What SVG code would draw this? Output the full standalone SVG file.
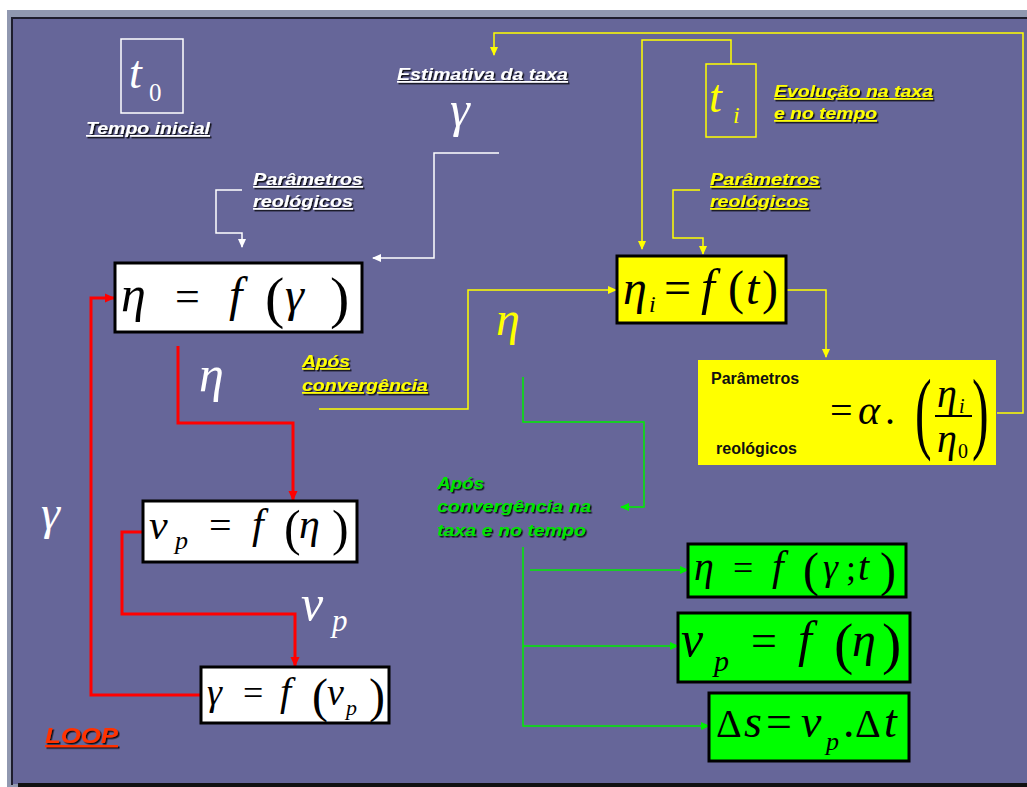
<svg xmlns="http://www.w3.org/2000/svg" width="1027" height="787" viewBox="0 0 1027 787">
<style>
.lab{font-family:"Liberation Sans",Arial,sans-serif;font-weight:bold;font-style:italic;font-size:17px;text-decoration:underline;filter:url(#sh)}
.w{fill:#ffffff}
.y{fill:#ffff00}
.g{fill:#00e600;text-decoration:none}
.r{fill:#ff3300;font-size:22px}
.bk{font-family:"Liberation Sans",Arial,sans-serif;font-weight:bold;font-size:16px;fill:#111}
.m{font-family:"Liberation Serif","Times New Roman",serif;font-style:italic;fill:#000}
.u{font-family:"Liberation Serif","Times New Roman",serif;font-style:normal;fill:#000}
.box{stroke:#000;stroke-width:3}
.cw{fill:none;stroke:#ffffff;stroke-width:1.5}
.cy{fill:none;stroke:#ffff00;stroke-width:1.5}
.cr{fill:none;stroke:#ff0000;stroke-width:3}
.cg{fill:none;stroke:#00ee00;stroke-width:1.5}
</style>
<defs>
<filter id="sh" x="-10%" y="-20%" width="130%" height="160%">
<feDropShadow dx="1.5" dy="1.5" stdDeviation="0.4" flood-color="#000" flood-opacity="0.85"/>
</filter>
<marker id="aw" markerUnits="userSpaceOnUse" markerWidth="10" markerHeight="10" refX="8" refY="5" orient="auto"><path d="M0,1 L9,5 L0,9 Z" fill="#ffffff"/></marker>
<marker id="ay" markerUnits="userSpaceOnUse" markerWidth="10" markerHeight="10" refX="8" refY="5" orient="auto"><path d="M0,1 L9,5 L0,9 Z" fill="#ffff00"/></marker>
<marker id="ar" markerUnits="userSpaceOnUse" markerWidth="12" markerHeight="12" refX="9" refY="6" orient="auto"><path d="M0,1.5 L10,6 L0,10.5 Z" fill="#ff0000"/></marker>
<marker id="ag" markerUnits="userSpaceOnUse" markerWidth="10" markerHeight="10" refX="8" refY="5" orient="auto"><path d="M0,1 L9,5 L0,9 Z" fill="#00ee00"/></marker>
</defs>

<!-- background frame -->
<rect width="1027" height="787" fill="#ffffff"/>
<rect x="7" y="10" width="1020" height="777" fill="#9098b0"/>
<rect x="12" y="18" width="1015" height="766" fill="#666699"/>
<path d="M12,785 V18 H1027" fill="none" stroke="#1e1e2e" stroke-width="2"/>
<rect x="18" y="783" width="1009" height="4" fill="#111111"/>

<!-- connectors -->
<g id="connectors">
<path class="cw" d="M499,153 H434 V258 H373" marker-end="url(#aw)"/>
<path class="cw" d="M242,190 H216 V233 H242 V247" marker-end="url(#aw)"/>
<path class="cy" d="M997,413 H1023 V33 H494 V55" marker-end="url(#ay)"/>
<path class="cy" d="M731,64 V40 H642 V249" marker-end="url(#ay)"/>
<path class="cy" d="M700,190 H673 V238 H703 V254" marker-end="url(#ay)"/>
<path class="cy" d="M319,409 H468 V290 H616" marker-end="url(#ay)"/>
<path class="cy" d="M787,290 H826 V357" marker-end="url(#ay)"/>
<path class="cr" d="M178,346 V423 H293 V500" marker-end="url(#ar)"/>
<path class="cr" d="M146,532 H122 V614 H295 V666" marker-end="url(#ar)"/>
<path class="cr" d="M200,695 H91 V298 H114" marker-end="url(#ar)"/>
<path class="cg" d="M523,377 V422 H644 V507 H621" marker-end="url(#ag)"/>
<path class="cg" d="M523,547 V726 H709" marker-end="url(#ag)"/>
<path class="cg" d="M530,570 H688" marker-end="url(#ag)"/>
<path class="cg" d="M523,646 H678" marker-end="url(#ag)"/>
</g>

<!-- t0 node -->
<g id="t0">
<rect x="121" y="39" width="62" height="74" fill="none" stroke="#ffffff" stroke-width="1.5"/>
<text x="129" y="88" class="m" style="fill:#fff" font-size="46">t</text>
<text x="149" y="101" class="u" style="fill:#fff" font-size="25">0</text>
<text x="86" y="134" class="lab w" textLength="124" lengthAdjust="spacingAndGlyphs">Tempo inicial</text>
</g>

<g id="estimativa">
<text x="397" y="80" class="lab w" textLength="171" lengthAdjust="spacingAndGlyphs">Estimativa da taxa</text>
<text x="450" y="126" class="m" style="fill:#fff" font-size="50">γ</text>
</g>

<g id="param-white">
<text x="253" y="185" class="lab w" textLength="110" lengthAdjust="spacingAndGlyphs">Parâmetros</text>
<text x="253" y="207" class="lab w" textLength="100" lengthAdjust="spacingAndGlyphs">reológicos</text>
</g>

<g id="eq-eta-gamma">
<rect x="115" y="263" width="247" height="69" fill="#ffffff" class="box"/>
<text x="121" y="311" class="m" font-size="50">η</text>
<text x="175" y="311" class="u" font-size="44">=</text>
<text x="229" y="311" class="m" font-size="48">f</text>
<text x="265" y="317" class="u" font-size="58">(</text>
<text x="285" y="311" class="m" font-size="48">γ</text>
<text x="330" y="317" class="u" font-size="58">)</text>
</g>

<text x="199" y="391" class="m" style="fill:#fff" font-size="50">η</text>

<g id="eq-vp">
<rect x="143" y="501" width="214" height="61" fill="#ffffff" class="box"/>
<text x="149" y="539" class="m" font-size="42">v</text>
<text x="175" y="549" class="m" font-size="26">p</text>
<text x="209" y="539" class="u" font-size="40">=</text>
<text x="252" y="538" class="m" font-size="42">f</text>
<text x="284" y="545" class="u" font-size="50">(</text>
<text x="299" y="538" class="m" font-size="42">η</text>
<text x="332" y="545" class="u" font-size="50">)</text>
</g>

<text x="301" y="620" class="m" style="fill:#fff" font-size="50">v</text>
<text x="332" y="631" class="m" style="fill:#fff" font-size="31">p</text>
<text x="41" y="529" class="m" style="fill:#fff" font-size="48">γ</text>

<g id="eq-gamma-vp">
<rect x="201" y="667" width="188" height="56" fill="#ffffff" class="box"/>
<text x="207" y="705" class="m" font-size="38">γ</text>
<text x="243" y="705" class="u" font-size="36">=</text>
<text x="280" y="705" class="m" font-size="40">f</text>
<text x="312" y="712" class="u" font-size="48">(</text>
<text x="327" y="705" class="m" font-size="38">v</text>
<text x="346" y="715" class="m" font-size="22">p</text>
<text x="369" y="712" class="u" font-size="48">)</text>
</g>

<text x="45" y="743" class="lab r" textLength="73" lengthAdjust="spacingAndGlyphs">LOOP</text>

<g id="ti">
<rect x="706" y="64" width="50" height="73" fill="none" stroke="#ffff00" stroke-width="1.5"/>
<text x="709" y="112" class="m" style="fill:#ff0" font-size="46">t</text>
<text x="733" y="123" class="m" style="fill:#ff0" font-size="24">i</text>
<text x="774" y="97" class="lab y" textLength="159" lengthAdjust="spacingAndGlyphs">Evolução na taxa</text>
<text x="774" y="119" class="lab y" textLength="103" lengthAdjust="spacingAndGlyphs">e no tempo</text>
</g>

<g id="param-yellow">
<text x="710" y="185" class="lab y" textLength="110" lengthAdjust="spacingAndGlyphs">Parâmetros</text>
<text x="710" y="207" class="lab y" textLength="99" lengthAdjust="spacingAndGlyphs">reológicos</text>
</g>

<g id="eq-eta-i">
<rect x="617" y="256" width="169" height="67" fill="#ffff00" class="box"/>
<text x="623" y="304" class="m" font-size="48">η</text>
<text x="649" y="312" class="m" font-size="24">i</text>
<text x="664" y="304" class="u" font-size="48">=</text>
<text x="701" y="304" class="m" font-size="50">f</text>
<text x="728" y="304" class="u" font-size="48">(</text>
<text x="746" y="304" class="m" font-size="48">t</text>
<text x="762" y="304" class="u" font-size="48">)</text>
</g>

<text x="496" y="335" class="m" style="fill:#ff0" font-size="48">η</text>

<g id="apos-yellow">
<text x="302" y="367" class="lab y" textLength="48" lengthAdjust="spacingAndGlyphs">Após</text>
<text x="302" y="391" class="lab y" textLength="126" lengthAdjust="spacingAndGlyphs">convergência</text>
</g>

<g id="param-box">
<rect x="698" y="360" width="298" height="105" fill="#ffff00"/>
<text x="711" y="384" class="bk">Parâmetros</text>
<text x="716" y="454" class="bk">reológicos</text>
<text x="830" y="424" class="u" font-size="40">=</text>
<text x="858" y="424" class="m" font-size="42">α</text>
<text x="885" y="424" class="u" font-size="40">.</text>
<text x="915" y="0" class="u" font-size="50" transform="translate(0,442) scale(1,1.8)">(</text>
<text x="937" y="407" class="m" font-size="40">η</text>
<text x="959" y="413" class="m" font-size="20">i</text>
<line x1="935" y1="416" x2="972" y2="416" stroke="#000" stroke-width="2"/>
<text x="937" y="452" class="m" font-size="40">η</text>
<text x="958" y="458" class="u" font-size="20">0</text>
<text x="972" y="0" class="u" font-size="50" transform="translate(0,442) scale(1,1.8)">)</text>
</g>

<g id="apos-green">
<text x="437" y="489" class="lab g" textLength="47" lengthAdjust="spacingAndGlyphs">Após</text>
<text x="437" y="512" class="lab g" textLength="154" lengthAdjust="spacingAndGlyphs">convergência na</text>
<text x="437" y="536" class="lab g" textLength="149" lengthAdjust="spacingAndGlyphs">taxa e no tempo</text>
</g>

<g id="g-eq1">
<rect x="688" y="544" width="218" height="53" fill="#00ff00" class="box"/>
<text x="694" y="580" class="m" font-size="40">η</text>
<text x="733" y="580" class="u" font-size="36">=</text>
<text x="772" y="580" class="m" font-size="42">f</text>
<text x="803" y="586" class="u" font-size="48">(</text>
<text x="823" y="580" class="m" font-size="38">γ</text>
<text x="846" y="580" class="u" font-size="36">;</text>
<text x="858" y="580" class="m" font-size="40">t</text>
<text x="880" y="586" class="u" font-size="48">)</text>
</g>

<g id="g-eq2">
<rect x="678" y="613" width="232" height="69" fill="#00ff00" class="box"/>
<text x="681" y="656" class="m" font-size="50">v</text>
<text x="714" y="671" class="m" font-size="30">p</text>
<text x="751" y="656" class="u" font-size="46">=</text>
<text x="798" y="656" class="m" font-size="50">f</text>
<text x="834" y="663" class="u" font-size="58">(</text>
<text x="852" y="656" class="m" font-size="48">η</text>
<text x="882" y="663" class="u" font-size="58">)</text>
</g>

<g id="g-eq3">
<rect x="709" y="693" width="200" height="68" fill="#00ff00" class="box"/>
<text x="716" y="737" class="u" font-size="40">Δ</text>
<text x="744" y="737" class="m" font-size="46">s</text>
<text x="766" y="737" class="u" font-size="46">=</text>
<text x="801" y="737" class="m" font-size="46">v</text>
<text x="826" y="750" class="m" font-size="26">p</text>
<text x="843" y="737" class="u" font-size="46">.</text>
<text x="855" y="737" class="u" font-size="40">Δ</text>
<text x="884" y="737" class="m" font-size="46">t</text>
</g>
</svg>
